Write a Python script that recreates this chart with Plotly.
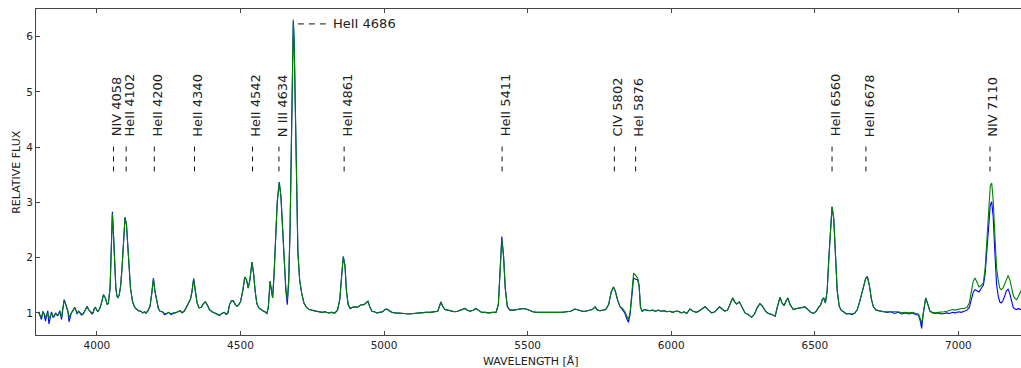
import plotly.graph_objects as go

# Spectrum samples: wavelength [Å] and relative flux for the two exposures
wavelength = [
    3797, 3801, 3807, 3812, 3816, 3821, 3825, 3829, 3833, 3838, 3842, 3847, 3851, 3856, 3862, 3866,
    3871, 3877, 3881, 3886, 3890, 3894, 3899, 3903, 3907, 3911, 3917, 3923, 3927, 3931, 3936, 3940,
    3946, 3952, 3959, 3966, 3971, 3977, 3983, 3987, 3991, 3995, 4000, 4004, 4010, 4015, 4019, 4023,
    4027, 4031, 4036, 4040, 4046, 4050, 4054, 4058, 4062, 4066, 4070, 4074, 4078, 4083, 4088, 4093,
    4098, 4103, 4107, 4112, 4117, 4124, 4130, 4137, 4145, 4153, 4160, 4166, 4171, 4178, 4185, 4191,
    4197, 4202, 4208, 4214, 4220, 4228, 4235, 4242, 4250, 4258, 4266, 4274, 4282, 4289, 4297, 4304,
    4312, 4319, 4326, 4331, 4337, 4343, 4349, 4356, 4364, 4371, 4378, 4385, 4392, 4401, 4410, 4418,
    4427, 4435, 4444, 4450, 4456, 4462, 4468, 4475, 4482, 4488, 4494, 4500, 4508, 4515, 4521, 4527,
    4533, 4540, 4546, 4551, 4557, 4564, 4571, 4578, 4585, 4592, 4597, 4603, 4608, 4612, 4617, 4622,
    4628, 4635, 4641, 4647, 4653, 4658, 4663, 4668, 4673, 4677, 4681, 4684, 4687, 4691, 4695, 4700,
    4706, 4713, 4721, 4730, 4740, 4750, 4760, 4772, 4784, 4795, 4806, 4818, 4828, 4838, 4846, 4852,
    4858, 4864, 4869, 4875, 4882, 4890, 4898, 4906, 4914, 4922, 4930, 4937, 4944, 4951, 4958, 4966,
    4975, 4985, 4995, 5003, 5010, 5018, 5028, 5040, 5055, 5070, 5085, 5100, 5115, 5130, 5145, 5160,
    5175, 5187, 5193, 5198, 5204, 5212, 5222, 5233, 5245, 5256, 5266, 5275, 5282, 5290, 5300, 5310,
    5319, 5328, 5340, 5352, 5365, 5378, 5390, 5398, 5404, 5410, 5416, 5422, 5429, 5438, 5450, 5462,
    5474, 5485, 5495, 5506, 5518, 5530, 5545, 5560, 5575, 5590, 5605, 5620, 5635, 5650, 5665, 5678,
    5690, 5702, 5714, 5725, 5735, 5743, 5752, 5762, 5772, 5782, 5791, 5799, 5806, 5814, 5822, 5830,
    5838, 5845, 5851, 5857, 5863, 5869, 5876, 5883, 5888, 5893, 5899, 5906, 5915, 5925, 5935, 5945,
    5955, 5965, 5975, 5985, 5995, 6005, 6015, 6025, 6035, 6045, 6054, 6065, 6076, 6088, 6098, 6108,
    6118, 6128, 6141, 6152, 6160, 6168, 6177, 6187, 6196, 6205, 6214, 6221, 6228, 6237, 6247, 6257,
    6268, 6280, 6290, 6300, 6309, 6318, 6328, 6338, 6350, 6362, 6370, 6379, 6386, 6393, 6400, 6406,
    6414, 6425, 6437, 6450, 6458, 6466, 6476, 6486, 6495, 6505, 6513, 6520, 6526, 6531, 6537, 6543,
    6549, 6555, 6560, 6566, 6572, 6578, 6585, 6592, 6600, 6610, 6620, 6630, 6640, 6648, 6656, 6663,
    6670, 6677, 6683, 6690, 6697, 6704, 6714, 6727, 6740, 6752, 6765, 6778, 6790, 6803, 6815, 6828,
    6840, 6852, 6861, 6867, 6872, 6877, 6882, 6886, 6891, 6896, 6901, 6910, 6920, 6930, 6940, 6950,
    6960, 6970, 6980, 6990, 7000, 7010, 7020, 7030, 7038, 7045, 7052, 7058, 7065, 7072, 7080, 7087,
    7093, 7099, 7105, 7111, 7116, 7121, 7127, 7133, 7139, 7144, 7149, 7155, 7161, 7167, 7173, 7179,
    7185, 7191, 7197, 7203, 7209, 7215, 7220,
]

flux_blue = [
    1.02, 0.95, 0.88, 1.03, 0.98, 0.85, 0.93, 1.04, 0.80, 0.97, 1.02, 0.92, 0.93, 1.00, 0.95, 0.97,
    1.04, 0.88, 1.10, 1.24, 1.18, 1.12, 1.02, 0.84, 0.95, 1.00, 1.04, 1.10, 1.05, 0.98, 1.03, 1.01,
    0.96, 0.98, 1.05, 1.12, 1.06, 1.02, 0.98, 1.00, 1.08, 1.10, 1.04, 1.03, 1.08, 1.16, 1.28, 1.33,
    1.29, 1.25, 1.15, 1.18, 1.45, 2.20, 2.83, 2.40, 1.80, 1.45, 1.30, 1.28, 1.33, 1.50, 1.85, 2.35,
    2.73, 2.60, 2.25, 1.80, 1.45, 1.21, 1.12, 1.07, 1.04, 1.03, 1.00, 1.02, 0.99, 1.04, 1.12, 1.35,
    1.63, 1.40, 1.20, 1.08, 1.03, 1.02, 0.97, 0.98, 1.01, 0.97, 0.99, 1.00, 1.02, 1.04, 1.00, 1.03,
    1.10, 1.18, 1.25, 1.38, 1.62, 1.38, 1.18, 1.09, 1.10, 1.17, 1.20, 1.14, 1.06, 1.02, 1.00, 0.98,
    0.95, 0.99, 1.01, 0.97, 0.99, 1.15, 1.21, 1.22, 1.15, 1.12, 1.15, 1.20, 1.40, 1.65, 1.60, 1.45,
    1.60, 1.92, 1.70, 1.40, 1.17, 1.09, 1.06, 1.04, 1.02, 0.99, 1.10, 1.57, 1.40, 1.27, 1.70, 2.40,
    3.00, 3.37, 3.10, 2.50, 1.85, 1.40, 1.15, 1.55, 2.60, 4.20, 5.80, 6.28, 5.90, 4.50, 3.10, 2.10,
    1.60, 1.36, 1.18, 1.10, 1.06, 1.05, 1.04, 1.03, 1.01, 1.02, 1.00, 1.01, 0.99, 1.05, 1.25, 1.65,
    2.02, 1.85, 1.40, 1.15, 1.08, 1.10, 1.11, 1.10, 1.12, 1.15, 1.15, 1.18, 1.21, 1.10, 1.03, 1.02,
    1.00, 1.01, 1.02, 1.06, 1.07, 1.04, 1.01, 1.00, 1.00, 0.99, 0.98, 0.99, 1.00, 1.00, 1.01, 1.01,
    1.02, 1.03, 1.12, 1.20, 1.12, 1.06, 1.05, 1.03, 1.02, 1.03, 1.05, 1.06, 1.08, 1.05, 1.03, 1.05,
    1.08, 1.05, 1.01, 1.01, 1.00, 1.01, 1.01, 1.15, 1.70, 2.38, 2.05, 1.45, 1.12, 1.05, 1.05, 1.06,
    1.07, 1.08, 1.07, 1.04, 1.02, 1.01, 1.01, 1.00, 1.01, 1.00, 1.01, 1.01, 1.02, 1.03, 1.07, 1.05,
    1.03, 1.03, 1.04, 1.06, 1.11, 1.05, 1.04, 1.05, 1.06, 1.15, 1.38, 1.47, 1.38, 1.22, 1.11, 1.06,
    1.00, 0.90, 0.83, 0.98, 1.38, 1.63, 1.61, 1.60, 1.50, 1.10, 1.03, 1.06, 1.05, 1.04, 1.05, 1.03,
    1.05, 1.03, 1.04, 1.02, 1.03, 1.01, 1.03, 1.03, 1.00, 1.02, 0.99, 1.07, 1.03, 1.01, 1.04, 1.07,
    1.11, 1.06, 1.00, 1.02, 1.06, 1.11, 1.07, 1.03, 1.05, 1.15, 1.27, 1.20, 1.16, 1.20, 1.10, 1.00,
    0.97, 0.92, 0.98, 1.10, 1.17, 1.12, 1.03, 0.99, 0.97, 0.94, 1.12, 1.28, 1.18, 1.13, 1.22, 1.27,
    1.15, 1.06, 1.08, 1.10, 1.10, 1.11, 1.06, 1.01, 0.99, 1.03, 1.10, 1.14, 1.24, 1.27, 1.18, 1.40,
    2.00, 2.65, 2.92, 2.70, 2.00, 1.40, 1.12, 1.05, 1.02, 0.98, 0.99, 0.97, 1.00, 1.06, 1.20, 1.35,
    1.50, 1.62, 1.66, 1.50, 1.25, 1.11, 1.05, 1.03, 1.02, 1.01, 1.02, 0.99, 1.01, 0.98, 1.00, 0.98,
    1.00, 0.97, 0.96, 0.86, 0.72, 0.95, 1.20, 1.27, 1.20, 1.10, 1.03, 1.00, 0.99, 1.00, 0.98, 0.99,
    1.00, 0.99, 1.01, 1.00, 1.02, 1.01, 1.03, 1.05, 1.10, 1.25, 1.38, 1.42, 1.40, 1.38, 1.45, 1.50,
    1.70, 2.15, 2.65, 2.95, 3.01, 2.75, 2.10, 1.51, 1.30, 1.20, 1.18, 1.22, 1.30, 1.40, 1.43, 1.35,
    1.22, 1.10, 1.07, 1.06, 1.08, 1.06, 1.08,
]

flux_green = [
    1.00, 0.97, 0.92, 1.01, 0.99, 0.93, 0.95, 1.00, 0.90, 0.95, 1.00, 0.94, 0.95, 0.98, 0.97, 0.96,
    1.02, 0.92, 1.08, 1.22, 1.18, 1.13, 1.04, 0.92, 0.97, 1.00, 1.05, 1.10, 1.05, 0.99, 1.03, 1.01,
    0.98, 0.98, 1.05, 1.11, 1.06, 1.03, 1.00, 1.01, 1.08, 1.10, 1.04, 1.03, 1.08, 1.16, 1.26, 1.33,
    1.29, 1.25, 1.15, 1.18, 1.45, 2.20, 2.80, 2.40, 1.80, 1.45, 1.30, 1.28, 1.33, 1.50, 1.85, 2.35,
    2.73, 2.60, 2.25, 1.80, 1.45, 1.21, 1.12, 1.07, 1.04, 1.03, 1.00, 1.02, 1.00, 1.04, 1.12, 1.35,
    1.62, 1.40, 1.20, 1.08, 1.03, 1.02, 0.99, 0.99, 1.01, 0.98, 1.00, 1.00, 1.02, 1.04, 1.01, 1.03,
    1.10, 1.18, 1.25, 1.38, 1.62, 1.38, 1.18, 1.09, 1.10, 1.17, 1.20, 1.14, 1.06, 1.02, 1.00, 0.98,
    0.96, 0.99, 1.01, 0.98, 1.00, 1.15, 1.22, 1.22, 1.15, 1.12, 1.15, 1.20, 1.40, 1.65, 1.60, 1.45,
    1.60, 1.92, 1.70, 1.40, 1.17, 1.09, 1.06, 1.04, 1.02, 0.99, 1.10, 1.57, 1.40, 1.27, 1.70, 2.40,
    3.00, 3.37, 3.10, 2.50, 1.85, 1.45, 1.23, 1.60, 2.60, 4.20, 5.80, 6.31, 5.90, 4.50, 3.10, 2.10,
    1.60, 1.36, 1.18, 1.10, 1.06, 1.04, 1.03, 1.02, 1.01, 1.02, 1.00, 1.01, 1.00, 1.05, 1.25, 1.65,
    2.02, 1.85, 1.40, 1.15, 1.08, 1.10, 1.11, 1.10, 1.12, 1.15, 1.15, 1.18, 1.21, 1.10, 1.03, 1.02,
    1.00, 1.01, 1.02, 1.06, 1.07, 1.04, 1.01, 1.00, 1.00, 0.99, 0.98, 0.99, 1.00, 1.00, 1.01, 1.01,
    1.02, 1.03, 1.12, 1.20, 1.12, 1.06, 1.05, 1.03, 1.02, 1.03, 1.05, 1.06, 1.08, 1.05, 1.03, 1.05,
    1.08, 1.05, 1.01, 1.01, 1.00, 1.01, 1.01, 1.15, 1.68, 2.33, 2.02, 1.45, 1.12, 1.05, 1.05, 1.06,
    1.07, 1.08, 1.07, 1.04, 1.02, 1.01, 1.01, 1.00, 1.01, 1.00, 1.01, 1.01, 1.02, 1.03, 1.07, 1.05,
    1.03, 1.03, 1.04, 1.06, 1.11, 1.05, 1.04, 1.05, 1.06, 1.15, 1.38, 1.47, 1.38, 1.22, 1.11, 1.08,
    1.03, 0.95, 0.88, 1.02, 1.45, 1.72, 1.68, 1.63, 1.50, 1.10, 1.03, 1.06, 1.05, 1.04, 1.05, 1.03,
    1.05, 1.03, 1.04, 1.02, 1.03, 1.01, 1.03, 1.03, 1.00, 1.02, 0.99, 1.07, 1.03, 1.01, 1.04, 1.07,
    1.11, 1.06, 1.00, 1.02, 1.06, 1.11, 1.07, 1.03, 1.05, 1.15, 1.27, 1.20, 1.16, 1.20, 1.10, 1.00,
    0.97, 0.92, 0.98, 1.10, 1.17, 1.12, 1.03, 0.99, 0.97, 0.94, 1.12, 1.28, 1.18, 1.13, 1.22, 1.27,
    1.15, 1.06, 1.08, 1.10, 1.10, 1.11, 1.06, 1.01, 0.99, 1.03, 1.10, 1.14, 1.24, 1.27, 1.18, 1.40,
    2.00, 2.65, 2.92, 2.70, 2.00, 1.40, 1.12, 1.05, 1.02, 0.98, 0.99, 0.98, 1.00, 1.06, 1.20, 1.35,
    1.50, 1.62, 1.65, 1.50, 1.25, 1.11, 1.05, 1.03, 1.02, 1.02, 1.02, 1.01, 1.02, 1.00, 1.01, 1.00,
    1.01, 0.99, 0.98, 0.90, 0.80, 0.98, 1.20, 1.27, 1.20, 1.10, 1.03, 1.01, 1.00, 1.01, 1.01, 1.02,
    1.03, 1.05, 1.06, 1.05, 1.07, 1.08, 1.08, 1.10, 1.18, 1.40, 1.58, 1.63, 1.55, 1.47, 1.50, 1.55,
    1.80, 2.35, 2.95, 3.30, 3.35, 3.05, 2.40, 1.81, 1.58, 1.45, 1.42, 1.45, 1.52, 1.62, 1.68, 1.60,
    1.45, 1.32, 1.26, 1.24, 1.30, 1.38, 1.42,
]

# Identified emission lines (label text, rest wavelength)
line_labels = ["NIV 4058", "HeII 4102", "HeII 4200", "HeII 4340", "HeII 4542", "N III 4634",
               "HeII 4861", "HeII 5411", "CIV 5802", "HeI 5876", "HeII 6560", "HeII 6678", "NIV 7110"]
line_waves = [4058, 4102, 4200, 4340, 4542, 4634, 4861, 5411, 5802, 5876, 6560, 6678, 7110]

# Strongest line, labelled beside its peak
peak_label = "HeII 4686"

x_ticks = [4000, 4500, 5000, 5500, 6000, 6500, 7000]
y_ticks = [1, 2, 3, 4, 5, 6]

FONT = "DejaVu Sans"
INK = "#222222"

fig = go.Figure()
fig.add_trace(go.Scatter(x=wavelength, y=flux_blue, mode="lines",
                         line=dict(color="#0000ff", width=1.1), showlegend=False))
fig.add_trace(go.Scatter(x=wavelength, y=flux_green, mode="lines",
                         line=dict(color="#008000", width=1.1), showlegend=False))

# Short dashed markers under each rotated line label
tick_lo, tick_hi, label_base = 3.56, 4.01, 4.17
for name, wave in zip(line_labels, line_waves):
    fig.add_shape(type="line", xref="x", yref="y", x0=wave, x1=wave, y0=tick_lo, y1=tick_hi,
                  line=dict(color="#111111", width=1, dash="5px,5px"))
    fig.add_annotation(x=wave, y=label_base, xref="x", yref="y", text=name, textangle=-90,
                       showarrow=False, xanchor="center", yanchor="bottom", xshift=3,
                       font=dict(family=FONT, size=13, color=INK), borderpad=0)

# Horizontal marker and label for the HeII 4686 peak
peak_y = 6.23
fig.add_shape(type="line", xref="x", yref="y", x0=4700, x1=4797, y0=peak_y, y1=peak_y,
              line=dict(color="#111111", width=1, dash="6px,5px"))
fig.add_annotation(x=4818, y=peak_y, xref="x", yref="y", text=peak_label, showarrow=False,
                   xanchor="left", yanchor="middle", borderpad=0,
                   font=dict(family=FONT, size=13, color=INK))

# Axis titles
fig.add_annotation(x=0.5025, y=-0.08, xref="paper", yref="paper", text="WAVELENGTH [Å]",
                   showarrow=False, xanchor="center", yanchor="middle",
                   font=dict(family=FONT, size=11, color=INK))
fig.add_annotation(x=-0.0205, y=0.5, xref="paper", yref="paper", text="RELATIVE FLUX",
                   textangle=-90, showarrow=False, xanchor="center", yanchor="middle",
                   font=dict(family=FONT, size=11, color=INK))

fig.update_layout(
    width=1021, height=368,
    margin=dict(l=36, r=0, t=9, b=33),
    paper_bgcolor="white", plot_bgcolor="white",
    font=dict(family=FONT, size=10.5, color=INK),
    xaxis=dict(range=[3788, 7218], tickvals=x_ticks, ticks="inside", ticklen=4,
               tickcolor="#444444", showline=True, linecolor="#444444", linewidth=1,
               mirror="ticks", showgrid=False, zeroline=False,
               tickfont=dict(family=FONT, size=10.5, color=INK)),
    yaxis=dict(range=[0.6, 6.5], tickvals=y_ticks, ticks="inside", ticklen=4,
               tickcolor="#444444", showline=True, linecolor="#444444", linewidth=1,
               showgrid=False, zeroline=False,
               tickfont=dict(family=FONT, size=10.5, color=INK)),
)

fig.write_html("out.html")
